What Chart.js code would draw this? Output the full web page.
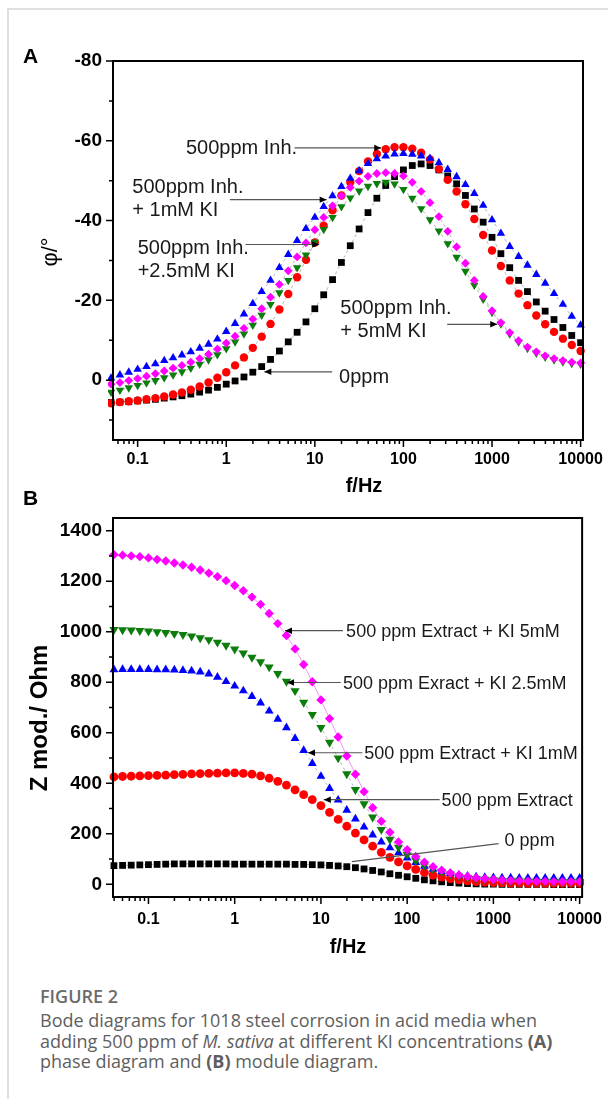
<!DOCTYPE html>
<html><head><meta charset="utf-8">
<script src="https://cdn.jsdelivr.net/npm/chart.js@4.4.1/dist/chart.umd.min.js"></script>
<style>
html,body{margin:0;padding:0;background:#fff;}
body{width:608px;height:1099px;position:relative;overflow:hidden;}
#frame{position:absolute;left:7px;top:8px;width:700px;height:1200px;border-top:2px solid #e0e0e0;border-left:2px solid #e0e0e0;}
canvas{position:absolute;left:0;}
#cA{top:0;} #cB{top:480px;}
.fig{position:absolute;left:40px;top:986px;font:600 18px 'Open Sans',sans-serif;line-height:20px;color:#6b6b6b;white-space:nowrap;}
.txt{position:absolute;left:40px;top:1010px;font:400 18px 'Open Sans',sans-serif;line-height:20.5px;color:#5e5e5e;white-space:nowrap;}
.txt b{font-weight:700;}
</style></head><body>
<div id="frame"></div>
<canvas id="cA" width="608" height="500"></canvas>
<canvas id="cB" width="608" height="500"></canvas>
<div class="fig">FIGURE 2</div>
<div class="txt">Bode diagrams for 1018 steel corrosion in acid media when<br>adding 500 ppm of <i>M. sativa</i> at different KI concentrations <b>(A)</b><br>phase diagram and <b>(B)</b> module diagram.</div>
<script>
// ---------- DATA ----------
const freqA = [0.0501,0.0631,0.0794,0.1,0.1259,0.1585,0.1995,0.2512,0.3162,0.3981,0.5012,0.631,0.7943,1,1.259,1.585,1.995,2.512,3.162,3.981,5.012,6.31,7.943,10,12.59,15.85,19.95,25.12,31.62,39.81,50.12,63.1,79.43,100,125.9,158.5,199.5,251.2,316.2,398.1,501.2,631,794.3,1000,1259,1585,1995,2512,3162,3981,5012,6310,7943,10000];
const phase0ppm = [5.6,5.5,5.4,5.2,5.0,4.8,4.5,4.2,3.9,3.5,3.0,2.5,1.8,1.0,0.2,-0.8,-2.0,-3.4,-5.2,-7.3,-9.6,-12.0,-14.6,-17.9,-21.4,-25.2,-29.5,-33.7,-37.9,-42.0,-45.6,-48.8,-51.0,-52.7,-53.8,-54.2,-53.8,-52.7,-51.2,-49.2,-46.3,-42.9,-39.6,-35.8,-31.7,-28.2,-25.0,-22.2,-19.6,-17.3,-15.2,-13.2,-11.2,-9.4];
const phaseInh = [5.8,5.5,5.3,5.1,4.8,4.5,4.1,3.6,3.1,2.4,1.6,0.6,-0.6,-2.0,-3.7,-5.7,-8.1,-10.9,-14.1,-17.7,-21.6,-25.8,-30.2,-34.5,-38.7,-42.6,-46.3,-49.6,-52.4,-54.8,-56.7,-57.9,-58.4,-58.4,-58.0,-57.0,-55.3,-52.9,-50.2,-47.3,-44.1,-40.4,-36.4,-32.5,-28.6,-25.0,-21.7,-18.8,-16.2,-14.0,-12.1,-10.4,-8.8,-7.3];
const phaseKI1 = [-0.5,-1.3,-2.0,-2.7,-3.4,-4.1,-4.9,-5.6,-6.3,-7.1,-8.0,-9.0,-10.3,-12.2,-14.2,-16.6,-19.2,-22.2,-25.0,-28.2,-31.5,-35.0,-38.0,-40.8,-43.5,-46.2,-48.5,-50.6,-52.5,-54.3,-55.5,-56.2,-56.7,-56.8,-56.6,-56.2,-55.6,-54.5,-52.8,-51.0,-49.0,-46.8,-43.8,-40.2,-36.8,-33.5,-31.0,-28.8,-26.5,-24.3,-21.7,-19.0,-16.0,-13.8];
const phaseKI25 = [3.0,2.5,1.9,1.3,0.7,0.1,-0.6,-1.3,-2.1,-3.0,-4.0,-5.1,-6.4,-7.9,-9.6,-11.6,-13.8,-16.3,-19.0,-21.9,-25.0,-28.2,-31.4,-34.6,-37.8,-40.8,-43.5,-45.7,-47.4,-48.6,-49.3,-49.6,-49.2,-47.8,-45.6,-43.0,-40.2,-37.4,-34.2,-30.8,-27.3,-23.8,-20.3,-17.0,-14.1,-11.6,-9.6,-8.0,-6.8,-5.8,-5.1,-4.6,-4.2,-4.0];
const phaseKI5 = [1.0,0.6,0.1,-0.4,-1.0,-1.6,-2.3,-3.0,-3.7,-4.5,-5.4,-6.5,-7.8,-9.3,-11.0,-13.0,-15.3,-17.9,-20.8,-24.0,-27.4,-30.9,-34.4,-37.7,-40.8,-43.7,-46.2,-48.3,-49.9,-51.1,-51.8,-52.0,-51.8,-51.2,-49.6,-47.3,-44.5,-41.0,-37.3,-33.4,-29.3,-25.0,-21.0,-17.4,-14.4,-11.9,-9.9,-8.3,-7.1,-6.1,-5.4,-4.9,-4.5,-4.3];

const freqB = [0.0398,0.0501,0.0631,0.0794,0.1,0.1259,0.1585,0.1995,0.2512,0.3162,0.3981,0.5012,0.631,0.7943,1,1.259,1.585,1.995,2.512,3.162,3.981,5.012,6.31,7.943,10,12.59,15.85,19.95,25.12,31.62,39.81,50.12,63.1,79.43,100,125.9,158.5,199.5,251.2,316.2,398.1,501.2,631,794.3,1000,1259,1585,1995,2512,3162,3981,5012,6310,7943,10000];
const mod0ppm = [74,75,76,77,78,79,80,81,81,81,81,81,81,81,80,80,80,80,80,80,80,79,79,78,77,75,73,70,66,61,55,49,42,36,30,24,18,14,10,7,5,3,2,1,1,0,0,0,0,0,0,-1,-1,-1,-1];
const modExtract = [425,427,428,429,430,431,432,434,435,437,438,439,440,441,441,439,436,429,420,408,393,374,355,335,312,285,257,230,203,176,151,127,107,89,73,59,47,37,29,23,18,14,11,9,7,6,5,5,4,4,4,4,4,4,4];
const modKI1 = [850,851,851,851,851,850,850,849,847,845,841,833,820,803,785,766,744,718,686,654,620,578,530,479,428,380,334,294,259,227,196,168,145,125,105,87,72,60,50,43,37,33,30,28,27,26,26,25,25,25,25,25,25,25,25];
const modKI25 = [1008,1007,1006,1004,1002,999,996,992,988,982,975,968,958,946,931,915,898,880,860,834,803,766,720,672,620,562,500,437,375,318,266,217,178,146,118,95,76,61,49,40,33,27,23,20,17,15,14,13,12,11,11,10,10,10,10];
const modKI5 = [1305,1303,1300,1297,1292,1286,1280,1272,1264,1255,1244,1232,1218,1202,1183,1162,1137,1108,1072,1032,985,932,870,802,730,656,583,508,436,367,303,250,206,168,137,110,88,70,56,45,37,31,26,22,19,17,15,14,13,12,12,11,11,11,11];

const xTickValues = [0.1,1,10,100,1000,10000];
const xTickLabels = ['0.1','1','10','100','1000','10000'];
const phaseTickValues = [-80,-60,-40,-20,0];
const phaseTickLabels = ['-80','-60','-40','-20','0'];
const phaseMinor = [-70,-50,-30,-10,10];
const modTickValues = [0,200,400,600,800,1000,1200,1400];
const modTickLabels = ['0','200','400','600','800','1000','1200','1400'];
const modMinor = [100,300,500,700,900,1100,1300];

const notesA = [
  {lines:['500ppm Inh.'], at:[0.351,-58.6], from:[5.9,-58.2], to:[56.2,-58.2]},
  {lines:['500ppm Inh.','+ 1mM KI'], at:[0.087,-48.7], from:[1.1,-45.25], to:[13.6,-45.25]},
  {lines:['500ppm Inh.','+2.5mM KI'], at:[0.1,-33.4], from:[1.65,-34], to:[11.2,-34]},
  {lines:['500ppm Inh.','+ 5mM KI'], at:[19.4,-18.3], from:[312,-14], to:[1145,-14]},
  {lines:['0ppm'], at:[18.8,-1.0], from:[15.7,-2.1], to:[2.69,-2.1]}
];
const notesB = [
  {lines:['500 ppm Extract + KI 5mM'], at:[19.6,1006], from:[18.0,1004], to:[3.83,1004]},
  {lines:['500 ppm Exract + KI 2.5mM'], at:[18.0,799], from:[17.0,799], to:[4.04,799]},
  {lines:['500 ppm Extract + KI 1mM'], at:[31.8,520], from:[30.2,521], to:[7.08,521]},
  {lines:['500 ppm Extract'], at:[251,335], from:[238,335], to:[10.8,335]},
  {lines:['0 ppm'], at:[1349,177], from:[1148,161], to:[22.9,90], noHead:true}
];

// ---------- RENDERING ----------
const SANS = "'Liberation Sans', Arial, Helvetica, sans-serif";

function arrowHead(ctx, x1, y1, x2, y2) {
  const a = Math.atan2(y2 - y1, x2 - x1), L = 7, W = 3.2;
  ctx.beginPath();
  ctx.moveTo(x2, y2);
  ctx.lineTo(x2 - L*Math.cos(a) + W*Math.sin(a), y2 - L*Math.sin(a) - W*Math.cos(a));
  ctx.lineTo(x2 - L*Math.cos(a) - W*Math.sin(a), y2 - L*Math.sin(a) + W*Math.cos(a));
  ctx.closePath();
  ctx.fill();
}

function makeDecor(cfg) {
  return {
    id: 'decor' + cfg.key,
    afterDraw(chart) {
      const {ctx, chartArea: a} = chart;
      const xs = chart.scales.x, ys = chart.scales.y;
      const X = f => xs.getPixelForValue(f), Y = v => ys.getPixelForValue(v);
      ctx.save();
      ctx.strokeStyle = '#000';
      ctx.lineWidth = 2;
      ctx.strokeRect(a.left, a.top, a.right - a.left, a.bottom - a.top);
      ctx.lineWidth = 1.5;
      ctx.beginPath();
      cfg.yMajor.forEach(v => { const p = Y(v); ctx.moveTo(a.left - 7, p); ctx.lineTo(a.left, p); });
      cfg.yMinor.forEach(v => { const p = Y(v); ctx.moveTo(a.left - 4, p); ctx.lineTo(a.left, p); });
      for (let e = -2; e <= 4; e++) {
        for (let m = 1; m <= 9; m++) {
          const f = m * Math.pow(10, e);
          if (f < xs.min || f > xs.max) continue;
          const p = X(f);
          ctx.moveTo(p, a.bottom); ctx.lineTo(p, a.bottom + (m === 1 ? 7 : 4));
        }
      }
      ctx.stroke();
      ctx.font = cfg.noteSize + 'px ' + SANS;
      ctx.textAlign = 'left';
      ctx.textBaseline = 'alphabetic';
      cfg.notes.forEach(n => {
        const tx = X(n.at[0]), ty = Y(n.at[1]);
        ctx.fillStyle = '#1a1a1a';
        n.lines.forEach((t, i) => ctx.fillText(t, tx, ty + i * cfg.noteLH + cfg.noteSize * 0.36));
        const x1 = X(n.from[0]), y1 = Y(n.from[1]), x2 = X(n.to[0]), y2 = Y(n.to[1]);
        ctx.strokeStyle = '#555'; ctx.lineWidth = 1.2;
        ctx.beginPath(); ctx.moveTo(x1, y1); ctx.lineTo(x2, y2); ctx.stroke();
        if (!n.noHead) { ctx.fillStyle = '#000'; arrowHead(ctx, x1, y1, x2, y2); }
      });
      ctx.fillStyle = '#000';
      cfg.texts.forEach(t => {
        ctx.save();
        ctx.font = t.font;
        ctx.translate(t.x, t.y);
        if (t.rot) ctx.rotate(t.rot);
        ctx.textAlign = t.align || 'center';
        ctx.textBaseline = t.base || 'alphabetic';
        ctx.fillText(t.t, 0, 0);
        ctx.restore();
      });
      ctx.restore();
    }
  };
}

function series(label, xs, ys, color, style, r, rot, lineColor, dash) {
  return {
    label, data: xs.map((f, i) => ({x: f, y: ys[i]})),
    pointStyle: style, pointRadius: r, pointHoverRadius: r, pointRotation: rot || 0,
    pointBackgroundColor: color, pointBorderColor: color, pointBorderWidth: 0,
    showLine: true, borderColor: lineColor, borderWidth: 1, borderDash: dash || [],
    clip: 5
  };
}

function buildChart(id, cfg) {
  return new Chart(document.getElementById(id), {
    type: 'scatter',
    data: {datasets: cfg.datasets},
    options: {
      responsive: false, animation: false, devicePixelRatio: 1,
      layout: {padding: {top: cfg.padTop, right: 25, bottom: 0, left: 0}},
      plugins: {legend: {display: false}, tooltip: {enabled: false}},
      events: [],
      scales: {
        x: {
          type: 'logarithmic', position: 'bottom', min: cfg.xmin, max: cfg.xmax,
          afterFit: s => { s.height = cfg.xHeight; },
          afterBuildTicks: s => { s.ticks = xTickValues.map(v => ({value: v})); },
          ticks: {callback: (v, i) => xTickLabels[i], autoSkip: false, maxRotation: 0, minRotation: 0,
                  padding: cfg.xPad, color: '#000', font: {family: SANS, weight: 'bold', size: 16}},
          grid: {display: false, drawTicks: true, tickLength: 7},
          border: {display: false}
        },
        y: {
          type: 'linear', min: cfg.ymin, max: cfg.ymax, reverse: cfg.reverse,
          afterFit: s => { s.width = 113; },
          afterBuildTicks: s => { s.ticks = cfg.yTicks.map(v => ({value: v})); },
          ticks: {callback: (v, i) => cfg.yLabels[i], padding: 4, color: '#000',
                  font: {family: SANS, weight: 'bold', size: 19}},
          grid: {display: false, drawTicks: true, tickLength: 7},
          border: {display: false}
        }
      }
    },
    plugins: [makeDecor(cfg)]
  });
}

const dashA = [3, 3];
buildChart('cA', {
  key: 'A', padTop: 61, xHeight: 60, xPad: 3,
  xmin: 0.0527, xmax: 10640, ymin: -80, ymax: 15, reverse: true,
  yTicks: phaseTickValues, yLabels: phaseTickLabels, yMajor: phaseTickValues, yMinor: phaseMinor,
  notes: notesA, noteSize: 20, noteLH: 23,
  texts: [
    {t: 'A', x: 23, y: 63, align: 'left', font: 'bold 21px ' + SANS},
    {t: 'f/Hz', x: 364, y: 492, font: 'bold 20px ' + SANS},
    {t: 'φ/°', x: 51, y: 252, rot: -Math.PI/2, base: 'middle', font: '22px ' + SANS}
  ],
  datasets: [
    series('500ppm Inh. + 5mM KI', freqA, phaseKI5, '#ff00ff', 'rectRot', 4.4, 0, 'rgba(120,120,120,0.55)', dashA),
    series('500ppm Inh. + 2.5mM KI', freqA, phaseKI25, '#0a7d0a', 'triangle', 4.9, 180, 'rgba(120,120,120,0.55)', dashA),
    series('500ppm Inh. + 1mM KI', freqA, phaseKI1, '#0000ff', 'triangle', 4.9, 0, 'rgba(120,120,120,0.55)', dashA),
    series('500ppm Inh.', freqA, phaseInh, '#ff0000', 'circle', 4.2, 0, 'rgba(120,120,120,0.55)', dashA),
    series('0ppm', freqA, phase0ppm, '#000000', 'rect', 4.8, 0, 'rgba(120,120,120,0.55)', dashA)
  ]
});

buildChart('cB', {
  key: 'B', padTop: 38, xHeight: 83, xPad: 6,
  xmin: 0.0388, xmax: 10690, ymin: -50, ymax: 1450, reverse: false,
  yTicks: modTickValues, yLabels: modTickLabels, yMajor: modTickValues, yMinor: modMinor,
  notes: notesB, noteSize: 18, noteLH: 22,
  texts: [
    {t: 'B', x: 23, y: 25, align: 'left', font: 'bold 21px ' + SANS},
    {t: 'f/Hz', x: 348, y: 473, font: 'bold 20px ' + SANS},
    {t: 'Z mod./ Ohm', x: 40, y: 238, rot: -Math.PI/2, base: 'middle', font: 'bold 24px ' + SANS}
  ],
  datasets: [
    series('500 ppm Extract + KI 5mM', freqB, modKI5, '#ff00ff', 'rectRot', 4.7, 0, 'rgba(240,120,240,0.8)', []),
    series('500 ppm Exract + KI 2.5mM', freqB, modKI25, '#0a7d0a', 'triangle', 5.3, 180, 'rgba(120,120,120,0.5)', dashA),
    series('500 ppm Extract + KI 1mM', freqB, modKI1, '#0000ff', 'triangle', 5.1, 0, 'rgba(120,120,120,0.5)', dashA),
    series('500 ppm Extract', freqB, modExtract, '#ff0000', 'circle', 4.4, 0, 'rgba(120,120,120,0.5)', dashA),
    series('0 ppm', freqB, mod0ppm, '#000000', 'rect', 4.8, 0, 'rgba(120,120,120,0.5)', dashA)
  ]
});
</script>
</body></html>
